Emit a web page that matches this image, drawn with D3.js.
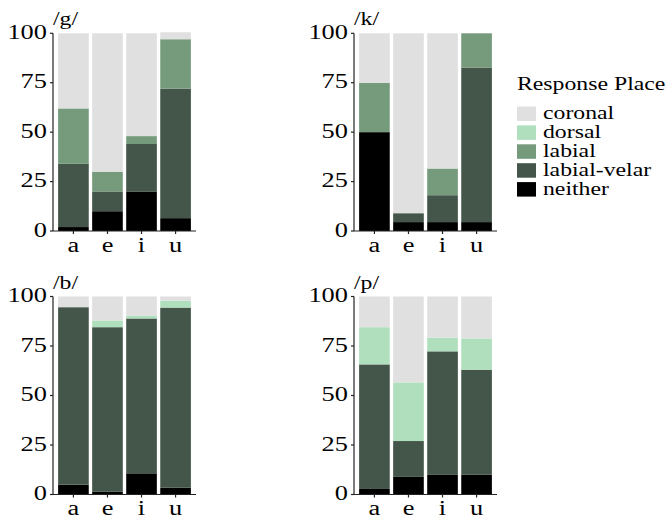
<!DOCTYPE html>
<html>
<head>
<meta charset="utf-8">
<script src="https://cdn.jsdelivr.net/npm/d3@7"></script>
<style>
  html, body { margin: 0; padding: 0; background: #fff; }
  svg { display: block; }
  text { font-family: "Liberation Serif", "Times New Roman", serif; fill: #000; }
</style>
</head>
<body>
<svg id="chart" width="667" height="519"></svg>
<script>
// Response place percentages by consonant (rows) and vowel context (columns)
const vowels = ["a", "e", "i", "u"];
const consonants = ["/g/", "/k/", "/b/", "/p/"];
const places = ["coronal", "dorsal", "labial", "labial-velar", "neither"];
const yTicks = [0, 25, 50, 75, 100];

const neither     = [[2, 10, 20, 6.5], [50, 4.5, 4.5, 4.5], [5, 1.5, 10.7, 3.5], [2.8, 8.9, 9.9, 10.1]];
const labialVelar = [[32, 10, 24, 65.5], [0, 4.5, 13.6, 78.2], [89.6, 83, 78.2, 90.9], [62.9, 18.1, 62.4, 52.9]];
const labial      = [[28, 10, 4, 25], [25, 0, 13.5, 17.3], [0, 0, 0, 0], [0, 0, 0, 0]];
const dorsal      = [[0, 0, 0, 0], [0, 0, 0, 0], [0, 3.4, 1.5, 3.5], [18.8, 29.6, 6.9, 15.8]];
const coronal     = [[38, 70, 52, 3.5], [25, 91, 68.4, 0], [5.4, 12.1, 9.6, 2.1], [15.5, 43.4, 20.8, 21.2]];

const placeColors = ["#dfe0df", "#b0dfbd", "#769a7c", "#435649", "#000000"];

// one row per consonant/vowel pair, used by d3.stack
const rows = [];
consonants.forEach((c, ci) => {
  vowels.forEach((v, vi) => {
    rows.push({
      consonant: c, vowel: v,
      "neither": neither[ci][vi],
      "labial-velar": labialVelar[ci][vi],
      "labial": labial[ci][vi],
      "dorsal": dorsal[ci][vi],
      "coronal": coronal[ci][vi]
    });
  });
});

const stackOrder = ["neither", "labial-velar", "labial", "dorsal", "coronal"];
const color = d3.scaleOrdinal().domain(places).range(placeColors);

const svg = d3.select("#chart");
const SX = 1.32; // horizontal text stretch

// panel layout (2 x 2 facets)
const panels = [
  { x0: 53, x1: 196, y0: 231, y1: 33.3 },
  { x0: 354, x1: 497, y0: 231, y1: 33.3 },
  { x0: 53, x1: 196, y0: 494.5, y1: 296.5 },
  { x0: 354, x1: 497, y0: 494.5, y1: 296.5 }
];

function stretchedText(parent, x, y, str, size, anchor) {
  return parent.append("text")
    .attr("transform", `translate(${x},${y}) scale(${SX},1)`)
    .attr("text-anchor", anchor || "start")
    .style("font-size", size + "px")
    .text(str);
}

consonants.forEach((cons, ci) => {
  const p = panels[ci];
  const g = svg.append("g");
  const x = d3.scaleBand().domain(vowels).range([p.x0, p.x1])
    .paddingInner(0.1).paddingOuter(0.15);
  const y = d3.scaleLinear().domain([0, 100]).range([p.y0, p.y1]);

  const data = rows.filter(r => r.consonant === cons);
  const series = d3.stack().keys(stackOrder)(data);

  g.selectAll("g.layer").data(series).join("g")
    .attr("class", "layer")
    .attr("fill", d => color(d.key))
    .selectAll("rect").data(d => d).join("rect")
    .attr("x", d => x(d.data.vowel))
    .attr("width", x.bandwidth())
    .attr("y", d => y(d[1]))
    .attr("height", d => Math.max(0, y(d[0]) - y(d[1])));

  // y axis
  g.append("line")
    .attr("x1", p.x0).attr("x2", p.x0)
    .attr("y1", y(100)).attr("y2", y(0))
    .attr("stroke", "#222").attr("stroke-width", 1.2);
  yTicks.forEach(t => {
    g.append("line")
      .attr("x1", p.x0 - 3).attr("x2", p.x0)
      .attr("y1", y(t)).attr("y2", y(t))
      .attr("stroke", "#222").attr("stroke-width", 1.2);
    stretchedText(g, p.x0 - 6, y(t) + 5.5, String(t), 20, "end");
  });

  // x axis
  g.append("line")
    .attr("x1", p.x0).attr("x2", p.x1)
    .attr("y1", p.y0).attr("y2", p.y0)
    .attr("stroke", "#222").attr("stroke-width", 1.2);
  vowels.forEach(v => {
    const cx = x(v) + x.bandwidth() / 2;
    g.append("line")
      .attr("x1", cx).attr("x2", cx)
      .attr("y1", p.y0).attr("y2", p.y0 + 3)
      .attr("stroke", "#222").attr("stroke-width", 1.2);
    stretchedText(g, cx, p.y0 + 20.5, v, 20, "middle");
  });

  // facet title
  stretchedText(g, p.x0, p.y1 - 8, cons, 18, "start");
});

// legend
const lg = svg.append("g");
stretchedText(lg, 517, 90, "Response Place", 18, "start");
places.forEach((pl, i) => {
  const top = 106.5 + i * 18.9;
  lg.append("rect")
    .attr("x", 517).attr("y", top)
    .attr("width", 19).attr("height", 14.5)
    .attr("fill", color(pl));
  stretchedText(lg, 543, top + 12.5, pl, 18, "start");
});
</script>
</body>
</html>
